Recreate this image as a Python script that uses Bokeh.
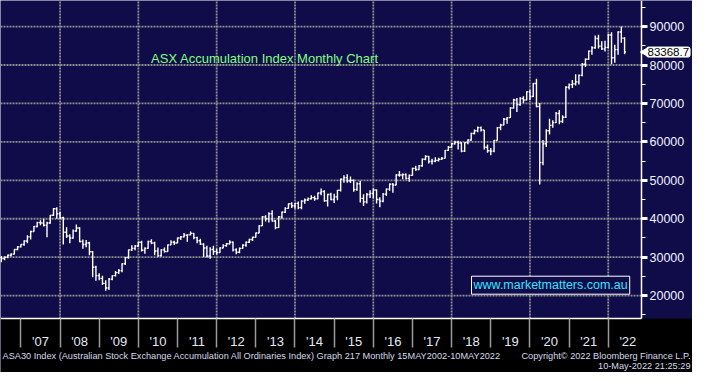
import math
from bokeh.plotting import figure
from bokeh.models import (FixedTicker, Label, ColumnDataSource, Range1d,
                          NumeralTickFormatter, LinearAxis, BoxAnnotation)
from bokeh.embed import file_html
from bokeh.resources import INLINE

# ---------------- data (monthly OHLC, Jun 2006 .. May 2022) ----------------
start_year, start_month = 2006, 6
first_open = 29900
closes = [
    29650, 30000, 30500, 30800, 32000, 32700, 33300,                                  # 2006 Jun-Dec
    34200, 35300, 36700, 38000, 39000, 38900, 38300, 38900, 40900, 42600, 41300, 40300,  # 2007
    36500, 35500, 35000, 36800, 37600, 34100, 33300, 33700, 31400, 27400, 25200, 24500,  # 2008
    23200, 22000, 24300, 25200, 26000, 26500, 28300, 29900, 31900, 32300, 32900, 33900,  # 2009
    31800, 32300, 34100, 33700, 31600, 30400, 31900, 31500, 33200, 33900, 33700, 35000,  # 2010
    35300, 35700, 35800, 36200, 35100, 34300, 33400, 32400, 30300, 32000, 31500, 31200,  # 2011
    32400, 33000, 33500, 33900, 31900, 31300, 32300, 33100, 33900, 34600, 35200, 36300,  # 2012
    38200, 40500, 40000, 41300, 39400, 37700, 40500, 41700, 42700, 43900, 43400, 44000,  # 2013
    42900, 44600, 44900, 45200, 45500, 45200, 46700, 47100, 44700, 46300, 45000, 45700,  # 2014
    47400, 50300, 50700, 49900, 50000, 47600, 49100, 45300, 44400, 46300, 46600, 47500,  # 2015
    45000, 44600, 46400, 47700, 49000, 48800, 51400, 51400, 51500, 50500, 51300, 53100,  # 2016
    52800, 53800, 55500, 56200, 54900, 55000, 55200, 55500, 55700, 57800, 58600, 59500,  # 2017
    59900, 59700, 57600, 59800, 60500, 62200, 62900, 63700, 63100, 58600, 57700, 57600,  # 2018
    60400, 63700, 64400, 65900, 66300, 68800, 70900, 69700, 71300, 70900, 73000, 71800,  # 2019
    75200, 69200, 54600, 59500, 62900, 64300, 65000, 67400, 65300, 66400, 74200, 74900,  # 2020
    75100, 75600, 77300, 80200, 81500, 83600, 84500, 86900, 84900, 84200, 84600, 87800,  # 2021
    81900, 84000, 88600, 87000, 83368.7,                                              # 2022 Jan-May
]
highs = [
    30300, 30200, 30700, 31000, 32100, 32900, 33400,
    34400, 35700, 36900, 38100, 39200, 39600, 40000, 39200, 41000, 42800, 43000, 41800,
    40500, 37800, 36000, 37200, 38500, 37800, 34600, 34500, 34000, 31600, 27800, 25800,
    25200, 24000, 24600, 25300, 26400, 26900, 28400, 30000, 32000, 33100, 33200, 34000,
    34300, 32600, 34300, 34700, 34000, 32500, 32100, 32500, 33300, 34400, 34300, 35100,
    35500, 36300, 35900, 36700, 36300, 35300, 34800, 33600, 33000, 32600, 33000, 32200,
    32600, 33400, 33700, 34400, 34100, 32300, 32500, 33400, 34100, 34800, 35300, 36400,
    38300, 40700, 40900, 41700, 42200, 39700, 40700, 41900, 43000, 44000, 44300, 44100,
    44500, 44800, 45300, 45500, 46100, 46000, 46800, 47900, 47400, 46500, 46800, 46500,
    47500, 50500, 51300, 51600, 51000, 50200, 49500, 49900, 46400, 46700, 47400, 47900,
    47600, 45600, 46700, 47900, 49200, 49300, 51600, 52400, 51800, 51800, 51500, 53300,
    53800, 54000, 55700, 56500, 56300, 55600, 56000, 55900, 56100, 57900, 58900, 59700,
    60300, 60300, 59900, 59900, 60700, 62400, 63200, 64000, 64000, 63100, 59300, 58400,
    60500, 63900, 64700, 66200, 66500, 69000, 71200, 71400, 71600, 71900, 73200, 73500,
    75300, 76400, 70100, 60500, 63300, 66000, 65600, 67800, 68300, 66900, 74500, 75200,
    76100, 77600, 77500, 80500, 81700, 83800, 84900, 87700, 87900, 86200, 86300, 88100,
    88500, 85300, 88800, 90000, 87200,
]
lows = [
    28700, 29200, 29700, 30200, 30700, 31800, 32500,
    33000, 33600, 34600, 36600, 37800, 38300, 38000, 35200, 38700, 40700, 40000, 39900,
    33300, 35000, 33600, 34800, 36600, 33900, 32200, 32600, 30500, 24800, 23900, 24000,
    22800, 21300, 21500, 24000, 25000, 25600, 26100, 28000, 29600, 31600, 31800, 32700,
    31500, 30900, 32200, 33400, 30500, 30100, 30200, 31200, 31400, 33100, 33200, 33600,
    34500, 35100, 34000, 35700, 34700, 33600, 33200, 30000, 29900, 29600, 30600, 30700,
    31100, 32300, 32700, 33300, 31500, 30800, 31000, 32200, 32700, 33700, 34200, 35100,
    36200, 38100, 39300, 39000, 39300, 37300, 37600, 40000, 41500, 42600, 42800, 42600,
    42500, 42500, 43900, 44600, 45000, 44700, 45100, 46100, 44400, 43200, 44800, 44100,
    44800, 47100, 49400, 49400, 49300, 47000, 47300, 44200, 43300, 44000, 45400, 45300,
    44000, 43000, 44300, 45900, 47300, 46800, 48700, 50900, 50300, 50200, 49600, 51200,
    52500, 52600, 53500, 55200, 54400, 54100, 54700, 54900, 55300, 55700, 57600, 58400,
    59300, 58000, 57300, 57400, 59400, 60300, 62000, 62500, 62700, 58000, 57200, 56500,
    57300, 60300, 63000, 64300, 64700, 66200, 68700, 67800, 69400, 70100, 70800, 70900,
    71700, 69000, 48900, 53900, 58700, 61900, 63700, 64900, 64600, 64900, 66200, 73600,
    74000, 74700, 74900, 77100, 79500, 81300, 82700, 84200, 84300, 83900, 83500, 84300,
    80200, 80600, 82700, 85800, 82800,
]
year_labels = ["'07", "'08", "'09", "'10", "'11", "'12", "'13", "'14",
               "'15", "'16", "'17", "'18", "'19", "'20", "'21", "'22"]
first_label_year = 2007
y_ticks = [20000, 30000, 40000, 50000, 60000, 70000, 80000, 90000]
y_minor = [15000, 25000, 35000, 45000, 55000, 65000, 75000, 85000, 95000]
last_price = 83368.7
last_price_text = "83368.7"

title_text = "ASX Accumulation Index Monthly Chart"
watermark = "www.marketmatters.com.au"
footer_left = ("ASA30 Index (Australian Stock Exchange Accumulation All Ordinaries Index) "
               "Graph 217  Monthly 15MAY2002-10MAY2022")
footer_right = "Copyright\u00a9 2022 Bloomberg Finance L.P."
footer_time = "10-May-2022 21:25:29"

# ---------------- derived positions ----------------
n = len(closes)
xs = []
for i in range(n):
    t = start_year * 12 + (start_month - 1) + i
    yr, mo = divmod(t, 12)
    xs.append(yr + (mo + 1) / 12.0)          # bars plotted at month end
opens = [first_open] + closes[:-1]
tw = 0.42 / 12.0
src = ColumnDataSource(dict(x=xs, o=opens, h=highs, l=lows, c=closes,
                            xl=[v - tw for v in xs], xr=[v + tw for v in xs]))

# ---------------- canvas <-> data mapping (whole canvas is the frame) ----------------
W, H = 692, 372
PLOT_W, PLOT_H = 641, 318                 # chart area (left/top part of canvas)
X0 = 2006.4795                            # date at left edge
KX = (651 / 39.77) / PLOT_W               # years per pixel
Y_TOP = 96782.0                           # value at top edge
KY = 325.7 * 254.0 / PLOT_H               # value per pixel

def xd(cx):
    return X0 + cx * KX

def yd(cy):
    return Y_TOP - cy * KY

X_AXIS = xd(PLOT_W)
Y_AXIS = yd(PLOT_H)

NAVY = "#100c4a"
FONT = "Liberation Sans"

p = figure(width=W, height=H, output_backend="svg", toolbar_location=None,
           x_range=Range1d(xd(0), xd(W)), y_range=Range1d(yd(H), yd(0)),
           x_axis_location=None, y_axis_location=None, title=None,
           min_border_left=0, min_border_top=0, min_border_right=0, min_border_bottom=0,
           background_fill_color=NAVY, border_fill_color=NAVY, outline_line_color=None)
p.xgrid.visible = False
p.ygrid.visible = False

# black band under the chart
p.add_layout(BoxAnnotation(top=Y_AXIS, fill_color="black", fill_alpha=1.0,
                           line_color=None, level="underlay"))

# dotted grid (limited to chart area)
gx = [y for y in range(first_label_year, first_label_year + len(year_labels)) if y % 2 == 0]
grid_kw = dict(line_color="#8e8e8e", line_dash="2 1", line_width=1.8, level="underlay")
p.segment(x0=gx, y0=[Y_AXIS] * len(gx), x1=gx, y1=[Y_TOP] * len(gx), **grid_kw)
p.segment(x0=[X0] * len(y_ticks), y0=y_ticks, x1=[X_AXIS] * len(y_ticks), y1=y_ticks, **grid_kw)

# OHLC bars
bar_kw = dict(source=src, line_color="white", line_width=1.4)
p.segment(x0="x", y0="l", x1="x", y1="h", **bar_kw)
p.segment(x0="xl", y0="o", x1="x", y1="o", **bar_kw)
p.segment(x0="x", y0="c", x1="xr", y1="c", **bar_kw)

# x axis (fixed inside the canvas)
yrs = list(range(first_label_year, first_label_year + len(year_labels)))
xa = LinearAxis(fixed_location=Y_AXIS, bounds=(X0, X_AXIS),
                ticker=FixedTicker(ticks=[y + 0.5 for y in yrs], minor_ticks=yrs))
xa.major_label_overrides = {y + 0.5: lab for y, lab in zip(yrs, year_labels)}
xa.major_tick_line_color = None
xa.major_tick_out = 0
xa.major_tick_in = 0
xa.minor_tick_out = 29
xa.minor_tick_in = 0
xa.minor_tick_line_color = "#9a9a9a"
xa.minor_tick_line_width = 1.5
xa.axis_line_color = "white"
xa.axis_line_width = 1.5
xa.major_label_text_color = "#e4eaf4"
xa.major_label_text_font = FONT
xa.major_label_text_font_size = "13px"
xa.major_label_standoff = -14
p.add_layout(xa, "below")

# y axis (right, fixed at the chart edge)
ya = LinearAxis(fixed_location=X_AXIS, bounds=(Y_AXIS, Y_TOP),
                ticker=FixedTicker(ticks=y_ticks, minor_ticks=y_minor))
ya.formatter = NumeralTickFormatter(format="0")
ya.axis_line_color = "white"
ya.axis_line_width = 1.5
ya.major_tick_out = 6
ya.major_tick_in = 0
ya.major_tick_line_color = "white"
ya.major_tick_line_width = 3
ya.minor_tick_out = 4
ya.minor_tick_in = 0
ya.minor_tick_line_color = "white"
ya.major_label_text_color = "#eef2ff"
ya.major_label_text_font = FONT
ya.major_label_text_font_size = "12.5px"
ya.major_label_standoff = 2
p.add_layout(ya, "right")

# annotations
p.add_layout(Label(x=xd(150.6), y=yd(57.5), text=title_text, text_color="#80ff80",
                   text_font=FONT, text_font_size="13px", text_baseline="middle"))
wm = Label(x=xd(471), y=yd(284.7), text=watermark, text_color="#30e4ff",
           text_font=FONT, text_font_size="12.5px", text_baseline="middle",
           background_fill_color=NAVY, border_line_color="white", border_line_width=1)
try:
    wm.padding = 2
except Exception:
    pass
p.add_layout(wm)

# last price flag
p.scatter(x=[xd(PLOT_W + 4)], y=[last_price], marker="triangle", size=9,
          angle=math.pi / 2, fill_color="white", line_color="white")
pl = Label(x=xd(PLOT_W + 5), y=last_price, text=last_price_text, text_color="black",
           text_font=FONT, text_font_size="11.5px", text_baseline="middle",
           background_fill_color="white", border_line_color="white")
try:
    pl.padding = 1
    pl.border_radius = 2
except Exception:
    pass
p.add_layout(pl)

# footer
foot_kw = dict(text_color="#d4dbea", text_font=FONT, text_font_size="9.2px",
               text_baseline="middle")
p.add_layout(Label(x=xd(2), y=yd(355.5), text=footer_left, **foot_kw))
p.add_layout(Label(x=xd(690), y=yd(355.5), text=footer_right, text_align="right", **foot_kw))
p.add_layout(Label(x=xd(690), y=yd(365.5), text=footer_time, text_align="right", **foot_kw))

open("out.html", "w").write(file_html(p, INLINE))
